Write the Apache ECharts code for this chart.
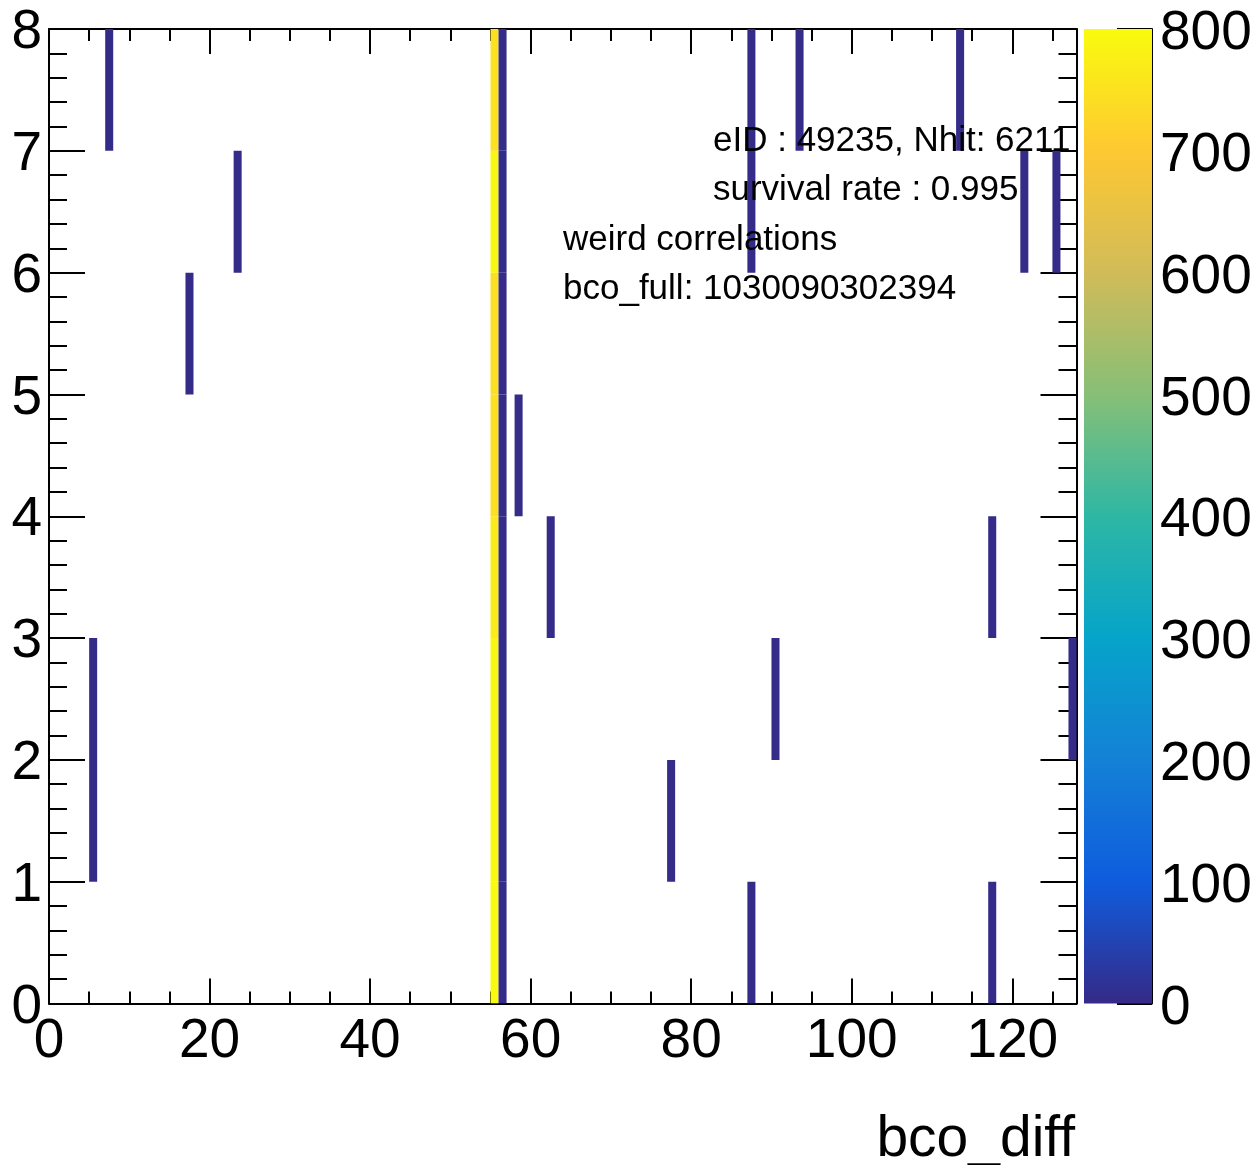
<!DOCTYPE html>
<html><head><meta charset="utf-8">
<script src="https://cdn.jsdelivr.net/npm/echarts@6/dist/echarts.min.js"></script>
<style>html,body{margin:0;padding:0;background:#fff}#c{width:1260px;height:1165px}</style>
</head><body><div id="c"></div>
<script>
// ---- data ----
const xTicks = [0, 20, 40, 60, 80, 100, 120];
const yTicks = [0, 1, 2, 3, 4, 5, 6, 7, 8];
const zTicks = [0, 100, 200, 300, 400, 500, 600, 700, 800];
const xRange = [0, 128];
const yRange = [0, 8];
const zRange = [0, 800];
// bin 55 (hot column), counts for y = 0..7
const hotBin = 55;
const hotCounts = [798, 795, 793, 768, 747, 743, 791, 749];
// bin 56, counts for y = 0..7
const lowBin = 56;
const lowCounts = [1, 1, 1, 1, 1, 1, 1, 1];
// other isolated cells: [bco_diff bin, y bin, count]
const sparseCells = [
  [5, 1, 1], [5, 2, 1], [7, 7, 1], [17, 5, 1], [23, 6, 1],
  [58, 4, 1], [62, 3, 1], [77, 1, 1], [87, 0, 1], [87, 6, 1], [87, 7, 1],
  [90, 2, 1], [93, 7, 1], [113, 7, 1], [117, 3, 1], [117, 0, 1],
  [121, 6, 1], [125, 6, 1], [127, 2, 1]
];
const textLines = [
  'eID : 49235, Nhit: 6211',
  'survival rate : 0.995',
  'weird correlations',
  'bco_full: 1030090302394'
];
const xTitle = 'bco_diff';
// ROOT kBird palette stops
const birdPalette = ['#352A87', '#0F5CDD', '#1481D6', '#06A4CA', '#2EB7A4', '#87BF77', '#D1BB59', '#FEC832', '#F9FB0E'];

// ---- build ----
const cells = [];
hotCounts.forEach((v, y) => cells.push([hotBin, y, v]));
lowCounts.forEach((v, y) => cells.push([lowBin, y, v]));
sparseCells.forEach(c => cells.push(c));

const FONT = '"Liberation Sans", Arial, Helvetica, sans-serif';
const black = '#000';
const chart = echarts.init(document.getElementById('c'), null, {renderer: 'canvas'});

function majorX(pos, labels) {
  return {
    type: 'value', gridIndex: 0, position: pos, min: xRange[0], max: xRange[1], interval: 20,
    axisLine: {show: true, onZero: false, lineStyle: {color: black, width: 2}},
    axisTick: {show: true, inside: true, length: 25, customValues: xTicks, lineStyle: {color: black, width: 2}},
    axisLabel: {show: labels, customValues: xTicks, fontSize: 55, fontFamily: FONT, color: black, margin: 11,
      formatter: v => (v % 20 === 0 ? String(v) : '')},
    splitLine: {show: false}
  };
}
function minorX(pos) {
  return {
    type: 'value', gridIndex: 0, position: pos, min: xRange[0], max: xRange[1], interval: 5,
    axisLine: {show: false, onZero: false},
    axisTick: {show: true, inside: true, length: 12, lineStyle: {color: black, width: 2}},
    axisLabel: {show: false}, splitLine: {show: false}
  };
}
function yMain(pos, labels) {
  return {
    type: 'value', gridIndex: 0, position: pos, min: yRange[0], max: yRange[1], interval: 1,
    axisLine: {show: true, onZero: false, lineStyle: {color: black, width: 2}},
    axisTick: {show: true, inside: true, length: 36, lineStyle: {color: black, width: 2}},
    minorTick: {show: true, splitNumber: 5, length: 18, lineStyle: {color: black, width: 2}},
    axisLabel: {show: labels, fontSize: 55, fontFamily: FONT, color: black, margin: 7,
      verticalAlign: 'top', lineHeight: 8},
    splitLine: {show: false}, minorSplitLine: {show: false}
  };
}

const option = {
  animation: false,
  backgroundColor: '#fff',
  grid: [
    {left: 49, top: 29, right: 183.5, bottom: 161.5},
    {left: 1084, top: 29, width: 68, bottom: 161.5}
  ],
  xAxis: [
    majorX('bottom', true), minorX('bottom'), majorX('top', false), minorX('top'),
    {type: 'value', gridIndex: 1, min: 0, max: 1, show: false}
  ],
  yAxis: [
    yMain('left', true), yMain('right', false),
    {
      type: 'value', gridIndex: 1, position: 'right', min: zRange[0], max: zRange[1], interval: 100,
      axisLine: {show: true, onZero: false, lineStyle: {color: black, width: 2}},
      axisTick: {show: true, inside: true, length: 35, lineStyle: {color: black, width: 2}},
      axisLabel: {show: true, fontSize: 55, fontFamily: FONT, color: black, margin: 8,
        verticalAlign: 'top', lineHeight: 10},
      splitLine: {show: false}
    }
  ],
  visualMap: {
    type: 'continuous', show: false, min: zRange[0], max: zRange[1], dimension: 2, seriesIndex: 0,
    inRange: {color: birdPalette}
  },
  series: [
    {
      type: 'custom', xAxisIndex: 0, yAxisIndex: 0, data: cells, encode: {x: 0, y: 1},
      clip: true,
      renderItem: function (params, api) {
        const x = api.value(0), y = api.value(1);
        const p0 = api.coord([x, y + 1]);
        const p1 = api.coord([x + 1, y]);
        return {
          type: 'rect',
          shape: {x: p0[0], y: p0[1], width: p1[0] - p0[0], height: p1[1] - p0[1]},
          style: {fill: api.visual('color'), stroke: null}
        };
      }
    },
    {
      type: 'custom', xAxisIndex: 4, yAxisIndex: 2, data: [[0, zRange[0], zRange[1]]], encode: {x: 0, y: 1},
      renderItem: function (params, api) {
        const p0 = api.coord([0, api.value(1)]);
        const p1 = api.coord([1, api.value(2)]);
        const stops = birdPalette.map((c, i) => ({offset: i / (birdPalette.length - 1), color: c}));
        return {
          type: 'rect',
          shape: {x: p0[0], y: p1[1], width: p1[0] - p0[0], height: p0[1] - p1[1]},
          style: {fill: new echarts.graphic.LinearGradient(0, 1, 0, 0, stops)}
        };
      }
    }
  ],
  graphic: [
    {type: 'text', left: 713, top: 124, style: {text: textLines[0], font: '35px ' + FONT, fill: black}, z: 100},
    {type: 'text', left: 713, top: 173, style: {text: textLines[1], font: '35px ' + FONT, fill: black}, z: 100},
    {type: 'text', left: 563, top: 223, style: {text: textLines[2], font: '35px ' + FONT, fill: black}, z: 100},
    {type: 'text', left: 563, top: 272, style: {text: textLines[3], font: '35px ' + FONT, fill: black}, z: 100},
    {type: 'text', right: 185, top: 1112, style: {text: xTitle, font: '57px ' + FONT, fill: black}, z: 100}
  ]
};
chart.setOption(option);
</script>
</body></html>
